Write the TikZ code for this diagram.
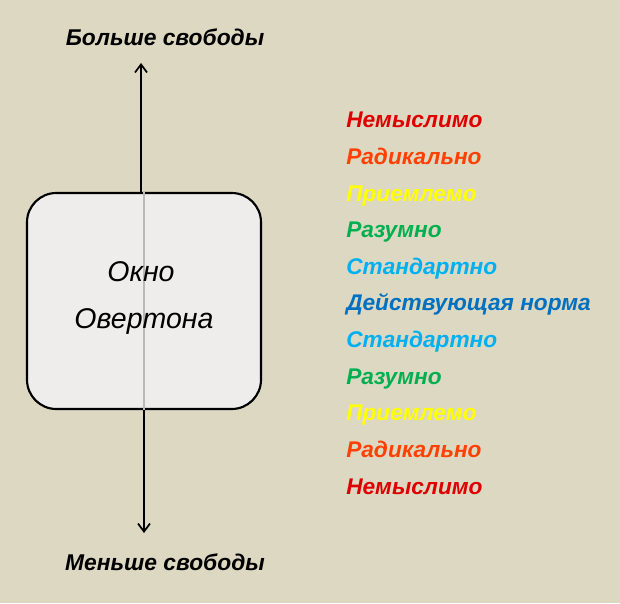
\documentclass[tikz,border=0pt]{standalone}
\usepackage{fontspec}
\setmainfont{Liberation Sans}
\usetikzlibrary{arrows.meta, positioning}

\definecolor{bgbeige}{RGB}{221,216,194}
\definecolor{boxfill}{RGB}{239,237,236}
\definecolor{cunthink}{RGB}{222,0,0}
\definecolor{cradical}{RGB}{255,64,0}
\definecolor{caccept}{RGB}{255,255,0}
\definecolor{csensible}{RGB}{0,176,80}
\definecolor{cstandard}{RGB}{0,176,240}
\definecolor{cnorm}{RGB}{0,112,192}

\begin{document}
\begin{tikzpicture}[
  x=0.75pt, y=-0.75pt,
  every node/.style={align=center, inner sep=0pt},
  % The window box
  window/.style={rectangle, draw=black, line width=1.6pt, rounded corners=22pt, fill=boxfill, minimum width=175.5pt, minimum height=162pt},
  % Text inside the window
  wintext/.style={font=\fontsize{21.4}{24}\selectfont\itshape, text height=15.3pt, text depth=0pt},
  % Freedom labels
  freedom/.style={font=\fontsize{17.1}{20}\selectfont\bfseries\itshape, text height=12.2pt, text depth=0pt},
  % Scale of positions
  level/.style={anchor=west, font=\fontsize{17}{20}\selectfont\bfseries\itshape, text height=12.2pt, text depth=0pt},
  % Arrows
  arr/.style={-{Straight Barb[length=6pt, width=9pt]}, line width=1.3pt}
]

% === Background ===
\fill[bgbeige] (0,0) rectangle (620,603);
\useasboundingbox (0,0) rectangle (620,603);

% === Overton window ===
\node[window] (win) at (144,301) {};
\draw[gray!55, line width=1.1pt] (win.north) -- (win.south);
\node[wintext] (okno) at (141,271) {Окно};
\node[wintext] (overtona) at (144,318) {Овертона};

% === Freedom axis ===
\node[freedom] (more) at (165,37) {Больше свободы};
\node[freedom] (less) at (165,562) {Меньше свободы};
\coordinate (uptip) at (141,63);
\coordinate (downtip) at (144,533);
\draw[arr] (win.north -| uptip) -- (uptip);
\draw[arr] (win.south -| downtip) -- (downtip);

% === Scale of positions ===
\node[level, text=cunthink] (l1) at (346,119) {Немыслимо};
\node[level, text=cradical] (l2) at (346,156) {Радикально};
\node[level, text=caccept] (l3) at (346,193) {Приемлемо};
\node[level, text=csensible] (l4) at (346,229) {Разумно};
\node[level, text=cstandard] (l5) at (346,266) {Стандартно};
\node[level, text=cnorm] (l6) at (346,302) {Действующая норма};
\node[level, text=cstandard] (l7) at (346,339) {Стандартно};
\node[level, text=csensible] (l8) at (346,376) {Разумно};
\node[level, text=caccept] (l9) at (346,412) {Приемлемо};
\node[level, text=cradical] (l10) at (346,449) {Радикально};
\node[level, text=cunthink] (l11) at (346,486) {Немыслимо};

\end{tikzpicture}
\end{document}
